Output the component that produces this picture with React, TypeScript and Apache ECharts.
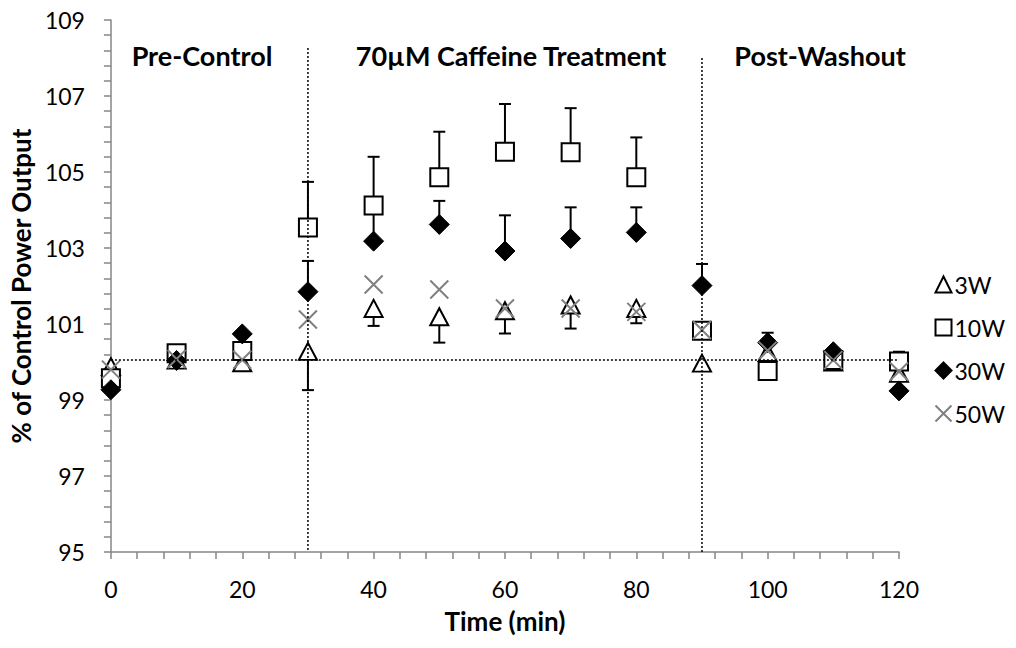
import React, { useEffect, useRef } from "react";
import * as echarts from "echarts";

const times = [0, 10, 20, 30, 40, 50, 60, 70, 80, 90, 100, 110, 120];
const w3 = [99.88, 100.05, 99.98, 100.28, 101.41, 101.19, 101.35, 101.5, 101.41, 99.97, 100.25, 100.0, 99.7];
const w3ErrDown = [0, 0, 0, 1.02, 0.46, 0.68, 0.6, 0.62, 0.39, 0, 0, 0, 0];
const w10 = [99.57, 100.23, 100.29, 103.54, 104.12, 104.86, 105.53, 105.52, 104.86, 100.82, 99.76, 100.05, 100.01];
const w10ErrUp = [0, 0, 0, 1.2, 1.28, 1.2, 1.26, 1.16, 1.05, 0, 0, 0, 0.26];
const w30 = [99.27, 100.04, 100.74, 101.85, 103.18, 103.62, 102.92, 103.25, 103.41, 102.01, 100.51, 100.27, 99.24];
const w30ErrUp = [0, 0, 0, 0.81, 0.9, 0.62, 0.94, 0.82, 0.66, 0.57, 0.26, 0, 0];
const w50 = [99.8, 100.08, 100.06, 101.12, 102.04, 101.91, 101.41, 101.41, 101.32, 100.84, 100.3, 100.05, 99.75];

const seriesNames = ["3W", "10W", "30W", "50W"];
const phaseLabels = ["Pre-Control", "70µM Caffeine Treatment", "Post-Washout"];
const phaseBounds = [30, 90];
const baseline = 100.05;

const FONT = "Lato, 'Noto Sans', sans-serif";
const X_PATH = "path://M0,0L10,10M10,0L0,10";

function errSeries(values: number[], errs: number[], dir: number) {
  const data = times
    .map((t, i) => [t, values[i], errs[i]])
    .filter((d) => d[2] > 0);
  return {
    type: "custom",
    z: 1,
    silent: true,
    data,
    renderItem: (params: any, api: any) => {
      const x = api.value(0);
      const y = api.value(1);
      const e = api.value(2);
      const p0 = api.coord([x, y]);
      const p1 = api.coord([x, y + dir * e]);
      const st = { stroke: "#000", lineWidth: 2 };
      return {
        type: "group",
        children: [
          { type: "line", shape: { x1: p0[0], y1: p0[1], x2: p1[0], y2: p1[1] }, style: st },
          { type: "line", shape: { x1: p1[0] - 6, y1: p1[1], x2: p1[0] + 6, y2: p1[1] }, style: st },
        ],
      };
    },
  };
}

function pts(values: number[]) {
  return times.map((t, i) => [t, values[i]]);
}

export default function App() {
  const ref = useRef<HTMLDivElement>(null);
  useEffect(() => {
    if (!ref.current) return;
    const chart = echarts.init(ref.current, undefined, { renderer: "svg" });
    const dotted = { color: "#000", width: 1.5, type: [2, 2] as any };
    const axisGray = "#868686";
    chart.setOption({
      animation: false,
      backgroundColor: "#fff",
      textStyle: { fontFamily: FONT },
      grid: { left: 110, right: 117, top: 20, bottom: 96 },
      legend: {
        orient: "vertical",
        right: 6,
        top: 268,
        itemGap: 20,
        itemWidth: 16,
        itemHeight: 16,
        textStyle: { fontFamily: FONT, fontSize: 23, color: "#000", padding: [0, 0, 0, -2] },
        data: seriesNames,
      },
      xAxis: {
        type: "value",
        min: 0,
        max: 120,
        interval: 20,
        name: "Time (min)",
        nameLocation: "middle",
        nameGap: 56,
        nameTextStyle: { fontFamily: FONT, fontSize: 26, fontWeight: "bold", color: "#000" },
        axisLine: { lineStyle: { color: axisGray, width: 1.5 } },
        axisTick: { show: true, length: 7, lineStyle: { color: axisGray, width: 1.5 } },
        minorTick: { show: true, splitNumber: 5, length: 7, lineStyle: { color: axisGray, width: 1.5 } },
        axisLabel: { fontFamily: FONT, fontSize: 23, color: "#000", margin: 25 },
        splitLine: { show: false },
        minorSplitLine: { show: false },
      },
      yAxis: {
        type: "value",
        min: 95,
        max: 109,
        interval: 2,
        name: "% of Control Power Output",
        nameLocation: "middle",
        nameGap: 68,
        nameTextStyle: { fontFamily: FONT, fontSize: 26, fontWeight: "bold", color: "#000" },
        axisLine: { lineStyle: { color: axisGray, width: 1.5 } },
        axisTick: { show: true, length: 7, lineStyle: { color: axisGray, width: 1.5 } },
        minorTick: { show: true, splitNumber: 5, length: 7, lineStyle: { color: axisGray, width: 1.5 } },
        axisLabel: { fontFamily: FONT, fontSize: 23, color: "#000", margin: 26 },
        splitLine: { show: false },
        minorSplitLine: { show: false },
      },
      graphic: [
        { type: "text", x: 202, y: 55, style: { text: phaseLabels[0], font: `bold 27px ${FONT}`, fill: "#000", textAlign: "center", textVerticalAlign: "middle" } },
        { type: "text", x: 511, y: 55, style: { text: phaseLabels[1], font: `bold 27px ${FONT}`, fill: "#000", textAlign: "center", textVerticalAlign: "middle" } },
        { type: "text", x: 820, y: 55, style: { text: phaseLabels[2], font: `bold 27px ${FONT}`, fill: "#000", textAlign: "center", textVerticalAlign: "middle" } },
      ],
      series: [
        errSeries(w3, w3ErrDown, -1),
        errSeries(w10, w10ErrUp, 1),
        errSeries(w30, w30ErrUp, 1),
        {
          name: "3W",
          type: "scatter",
          z: 3,
          symbol: "triangle",
          symbolSize: [18, 17],
          itemStyle: { color: "#fff", borderColor: "#000", borderWidth: 2, opacity: 1 },
          data: pts(w3),
        },
        {
          name: "10W",
          type: "scatter",
          z: 4,
          symbol: "rect",
          symbolSize: 18,
          itemStyle: { color: "#fff", borderColor: "#000", borderWidth: 2, opacity: 1 },
          data: pts(w10),
        },
        {
          name: "30W",
          type: "scatter",
          z: 5,
          symbol: "diamond",
          symbolSize: 20,
          itemStyle: { color: "#000", borderColor: "#000", borderWidth: 1, opacity: 1 },
          data: pts(w30),
        },
        {
          name: "50W",
          type: "scatter",
          z: 6,
          symbol: X_PATH,
          symbolSize: 18,
          itemStyle: { color: "none", borderColor: "#808080", borderWidth: 2, opacity: 1 },
          data: pts(w50),
        },
        {
          type: "line",
          z: 8,
          silent: true,
          symbol: "none",
          lineStyle: dotted,
          data: [[phaseBounds[0], 108.26], [phaseBounds[0], 95]],
        },
        {
          type: "line",
          z: 8,
          silent: true,
          symbol: "none",
          lineStyle: dotted,
          data: [[phaseBounds[1], 108.0], [phaseBounds[1], 95]],
        },
        {
          type: "line",
          z: 8,
          silent: true,
          symbol: "none",
          lineStyle: dotted,
          data: [[0, baseline], [120, baseline]],
        },
      ],
    });
    return () => chart.dispose();
  }, []);
  return <div ref={ref} style={{ width: 1016, height: 648, margin: -8 }} />;
}
